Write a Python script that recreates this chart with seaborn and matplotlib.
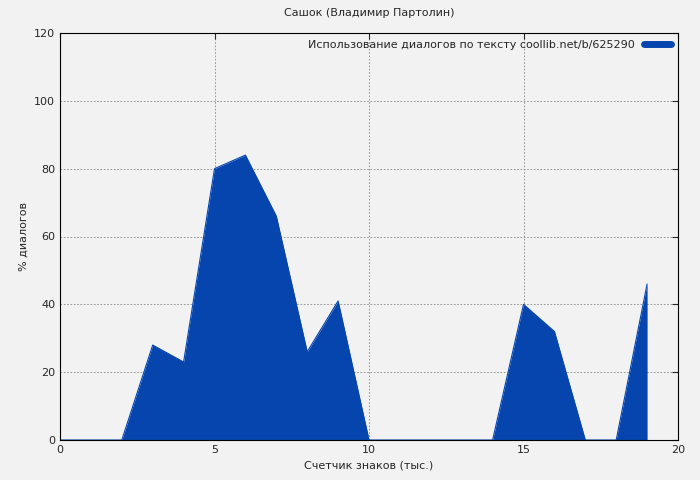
import matplotlib
matplotlib.use("Agg")
import matplotlib.pyplot as plt
import seaborn as sns
import pandas as pd

x_vals = list(range(0, 20))
pct = [0, 0, 0, 28, 23, 80, 84, 66, 26, 41, 0, 0, 0, 0, 0, 40, 32, 0, 0, 46]
title = "Сашок (Владимир Партолин)"
legend_label = "Использование диалогов по тексту coollib.net/b/625290"

sns.set_style("white")
plt.rcParams['font.family'] = ['DejaVu Sans']
df = pd.DataFrame({"x": x_vals, "y": pct})

fig = plt.figure(figsize=(7, 4.8), dpi=100, facecolor="#f2f2f2")
ax = fig.add_axes([60/700, 40/480, 618/700, 407/480])
ax.set_facecolor("#f2f2f2")
color = "#0645ad"
ax.fill_between(df["x"], df["y"], 0, color=color, linewidth=0)
sns.lineplot(data=df, x="x", y="y", ax=ax, color=color, linewidth=0.8)
ax.plot([], [], color=color, linewidth=5, label=legend_label)
ax.set_xlim(0, 20)
ax.set_ylim(0, 120)
ax.set_xticks([0, 5, 10, 15, 20])
ax.set_yticks(range(0, 121, 20))
ax.grid(True, color="#888888", linestyle=(0, (2, 2)), linewidth=0.6)
for s in ax.spines.values():
    s.set_color("black"); s.set_linewidth(0.8)
ax.tick_params(labelsize=8, direction="in", length=4, top=True, right=True)
ax.set_xlabel("Счетчик знаков (тыс.)", fontsize=8)
ax.set_ylabel("% диалогов", fontsize=8)
ax.set_title(title, fontsize=8, pad=12)
leg = ax.legend(loc="upper right", fontsize=8, frameon=False, markerfirst=False,
                handlelength=2.5, borderaxespad=0.2)
fig.savefig("out.png", dpi=100, facecolor="#f2f2f2")
